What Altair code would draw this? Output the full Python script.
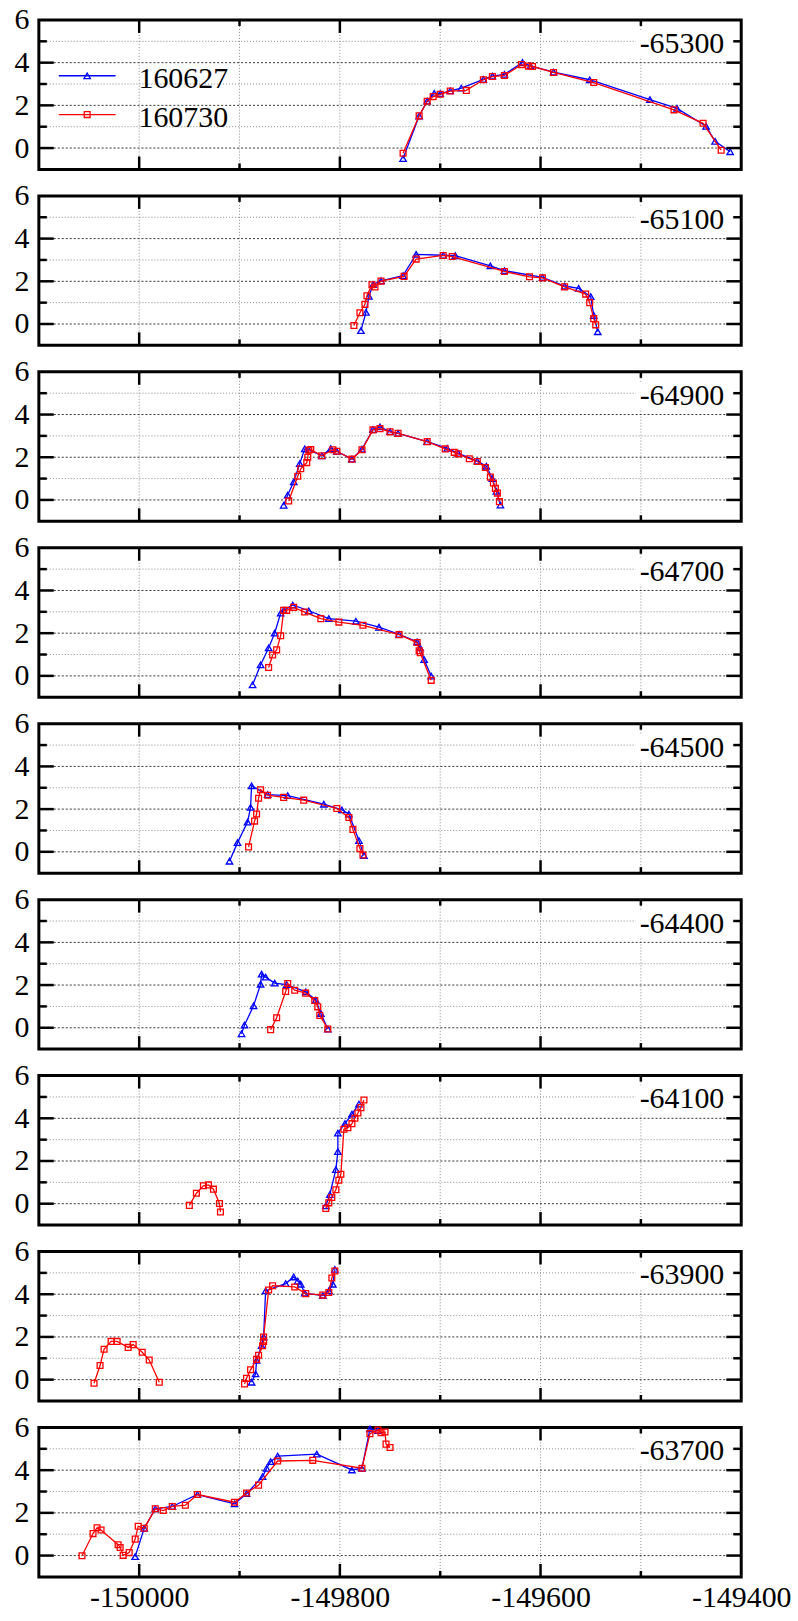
import altair as alt
import pandas as pd

# ---------------- data ----------------
SERIES = ["160627", "160730"]
COLORS = ["#0000ff", "#ff0000"]
SHAPES = ["triangle-up", "square"]

PANEL_LABELS = ["-65300", "-65100", "-64900", "-64700", "-64500",
                "-64400", "-64100", "-63900", "-63700"]

X_DOMAIN = [-150100, -149400]
Y_DOMAIN = [-1, 6]
X_LABELS = [-150000, -149800, -149600, -149400]
X_GRID = [-150000, -149900, -149800, -149700, -149600, -149500]
X_TICK_MAJOR = [-150000, -149800, -149600]
X_TICK_MINOR = [-149900, -149700, -149500]
Y_LABELS = [0, 2, 4, 6]
Y_GRID_MAJOR = [0, 2, 4]
Y_GRID_MINOR = [1, 3, 5]

# panel -65300
P1_B_X = [-149737, -149721, -149713, -149706, -149700, -149690, -149679, -149657, -149648, -149636,
          -149618, -149610, -149587, -149551, -149491, -149464, -149435, -149426, -149411]
P1_B_Y = [-0.49, 1.50, 2.20, 2.56, 2.55, 2.68, 2.81, 3.22, 3.37, 3.45,
          4.01, 3.85, 3.56, 3.20, 2.27, 1.86, 1.02, 0.32, -0.17]
P1_R_X = [-149737, -149721, -149713, -149707, -149700, -149690, -149674, -149657, -149648, -149636,
          -149619, -149612, -149608, -149587, -149547, -149467, -149438, -149420]
P1_R_Y = [-0.24, 1.51, 2.19, 2.41, 2.52, 2.67, 2.70, 3.20, 3.35, 3.40,
          3.91, 3.84, 3.82, 3.54, 3.07, 1.79, 1.16, -0.10]

# panel -65100
P2_B_X = [-149779, -149774, -149771, -149767, -149759, -149737, -149724, -149697, -149685, -149650,
          -149636, -149598, -149576, -149562, -149550, -149547, -149543]
P2_B_Y = [-0.31, 0.55, 1.30, 1.85, 2.02, 2.27, 3.26, 3.22, 3.20, 2.72,
          2.50, 2.18, 1.78, 1.67, 1.28, 0.40, -0.36]
P2_R_X = [-149786, -149780, -149775, -149773, -149768, -149765, -149759, -149736, -149724, -149697,
          -149688, -149636, -149611, -149598, -149576, -149555, -149551, -149547, -149545]
P2_R_Y = [-0.07, 0.53, 0.92, 1.32, 1.84, 1.73, 2.01, 2.23, 3.04, 3.21,
          3.16, 2.46, 2.21, 2.16, 1.74, 1.40, 1.00, 0.25, -0.04]

# panel -64900
P3_B_X = [-149856, -149852, -149846, -149840, -149835, -149831, -149818, -149809, -149803, -149788,
          -149778, -149767, -149760, -149750, -149742, -149713, -149693, -149682, -149663, -149654,
          -149648, -149644, -149640]
P3_B_Y = [-0.25, 0.23, 0.85, 1.70, 2.39, 2.36, 2.07, 2.41, 2.28, 1.91,
          2.38, 3.30, 3.42, 3.20, 3.12, 2.73, 2.42, 2.18, 1.82, 1.58,
          1.00, 0.40, -0.24]
P3_R_X = [-149851, -149842, -149839, -149833, -149832, -149831, -149829, -149818, -149807, -149803,
          -149788, -149778, -149767, -149760, -149750, -149742, -149713, -149695, -149686, -149682,
          -149671, -149663, -149655, -149650, -149647, -149645, -149643, -149641]
P3_R_Y = [-0.05, 1.11, 1.46, 1.75, 2.00, 2.33, 2.36, 2.07, 2.35, 2.28,
          1.91, 2.35, 3.28, 3.34, 3.19, 3.12, 2.73, 2.39, 2.23, 2.16,
          1.93, 1.80, 1.52, 1.07, 0.79, 0.54, 0.32, -0.08]

# panel -64700
P4_B_X = [-149887, -149879, -149871, -149865, -149859, -149856, -149847, -149831, -149811, -149784,
          -149761, -149741, -149723, -149720, -149716, -149709]
P4_B_Y = [-0.42, 0.52, 1.31, 2.00, 2.94, 3.07, 3.32, 3.05, 2.68, 2.56,
          2.28, 1.95, 1.60, 1.31, 0.76, -0.01]
P4_R_X = [-149871, -149867, -149863, -149859, -149856, -149853, -149846, -149835, -149819, -149801,
          -149777, -149741, -149723, -149721, -149720, -149709]
P4_R_Y = [0.39, 0.98, 1.22, 1.88, 3.07, 3.07, 3.21, 2.99, 2.68, 2.52,
          2.37, 1.93, 1.56, 1.18, 1.08, -0.21]

# panel -64500
P5_B_X = [-149910, -149902, -149892, -149889, -149888, -149872, -149852, -149816, -149798, -149791,
          -149781, -149776]
P5_B_Y = [-0.44, 0.43, 1.39, 2.08, 3.09, 2.68, 2.63, 2.23, 1.97, 1.77,
          0.53, -0.17]
P5_R_X = [-149891, -149885, -149883, -149881, -149879, -149872, -149856, -149836, -149803, -149791,
          -149787, -149780, -149777]
P5_R_Y = [0.23, 1.44, 1.77, 2.51, 2.91, 2.65, 2.55, 2.42, 2.03, 1.61,
          1.05, 0.15, -0.15]

# panel -64400
P6_B_X = [-149898, -149895, -149886, -149879, -149878, -149874, -149865, -149853, -149834, -149824,
          -149819, -149812]
P6_B_Y = [-0.28, 0.13, 1.03, 2.04, 2.51, 2.37, 2.09, 2.02, 1.68, 1.30,
          0.67, -0.06]
P6_R_X = [-149869, -149863, -149854, -149852, -149845, -149834, -149825, -149822, -149820, -149812]
P6_R_Y = [-0.09, 0.47, 1.70, 2.07, 1.76, 1.62, 1.28, 0.98, 0.58, -0.06]

# panel -64100
P7_B_X = [-149814, -149810, -149804, -149802, -149802, -149795, -149788, -149781]
P7_B_Y = [-0.10, 0.43, 1.60, 2.44, 3.31, 3.75, 4.20, 4.67]
P7_R1_X = [-149950, -149943, -149936, -149931, -149926, -149920, -149919]
P7_R1_Y = [-0.08, 0.49, 0.84, 0.88, 0.68, 0.01, -0.39]
P7_R2_X = [-149814, -149811, -149808, -149804, -149801, -149799, -149796, -149792, -149788, -149785,
           -149782, -149779, -149776]
P7_R2_Y = [-0.22, 0.04, 0.29, 0.65, 1.10, 1.38, 3.49, 3.56, 3.75, 4.00,
           4.25, 4.50, 4.86]

# panel -63900
P8_B_X = [-149888, -149884, -149883, -149878, -149876, -149874, -149854, -149846, -149842, -149839,
          -149835, -149817, -149811, -149807, -149805]
P8_B_Y = [-0.12, 0.27, 0.90, 1.60, 2.00, 4.16, 4.50, 4.81, 4.62, 4.47,
          4.05, 3.94, 4.16, 4.47, 5.17]
P8_R1_X = [-150045, -150039, -150035, -150028, -150022, -150011, -150006, -149997, -149990, -149980]
P8_R1_Y = [-0.17, 0.66, 1.42, 1.79, 1.79, 1.51, 1.64, 1.28, 0.92, -0.12]
P8_R2_X = [-149895, -149893, -149889, -149883, -149881, -149877, -149876, -149876, -149871, -149867,
           -149845, -149834, -149817, -149811, -149808, -149805]
P8_R2_Y = [-0.20, 0.06, 0.46, 0.95, 1.14, 1.59, 1.79, 2.00, 4.20, 4.40,
           4.34, 4.03, 3.96, 4.08, 4.76, 5.09]

# panel -63700
P9_B_X = [-150004, -149995, -149984, -149967, -149942, -149905, -149893, -149877, -149873, -149869,
          -149862, -149823, -149788, -149778, -149770, -149762]
P9_B_Y = [-0.05, 1.28, 2.19, 2.30, 2.86, 2.42, 2.90, 3.70, 4.09, 4.40,
          4.66, 4.75, 4.01, 4.09, 5.94, 5.85]
P9_R_X = [-150057, -150046, -150042, -150038, -150021, -150019, -150016, -150010, -150004, -150001,
          -149995, -149984, -149976, -149967, -149954, -149942, -149905, -149893, -149881, -149862,
          -149827, -149778, -149770, -149762, -149759, -149755, -149754, -149750]
P9_R_Y = [-0.01, 1.03, 1.30, 1.20, 0.51, 0.38, 0.01, 0.14, 0.77, 1.37,
          1.28, 2.19, 2.11, 2.30, 2.36, 2.86, 2.50, 2.93, 3.30, 4.43,
          4.46, 4.09, 5.71, 5.88, 5.76, 5.79, 5.22, 5.06]

# (series index, segment id, xs, ys) per panel
PANELS = [
    [(0, 0, P1_B_X, P1_B_Y), (1, 0, P1_R_X, P1_R_Y)],
    [(0, 0, P2_B_X, P2_B_Y), (1, 0, P2_R_X, P2_R_Y)],
    [(0, 0, P3_B_X, P3_B_Y), (1, 0, P3_R_X, P3_R_Y)],
    [(0, 0, P4_B_X, P4_B_Y), (1, 0, P4_R_X, P4_R_Y)],
    [(0, 0, P5_B_X, P5_B_Y), (1, 0, P5_R_X, P5_R_Y)],
    [(0, 0, P6_B_X, P6_B_Y), (1, 0, P6_R_X, P6_R_Y)],
    [(0, 0, P7_B_X, P7_B_Y), (1, 0, P7_R1_X, P7_R1_Y), (1, 1, P7_R2_X, P7_R2_Y)],
    [(0, 0, P8_B_X, P8_B_Y), (1, 0, P8_R1_X, P8_R1_Y), (1, 1, P8_R2_X, P8_R2_Y)],
    [(0, 0, P9_B_X, P9_B_Y), (1, 0, P9_R_X, P9_R_Y)],
]

# ---------------- styling ----------------
W, H = 705, 150
FONT = "Liberation Serif, Times New Roman, serif"
FS = 30

X_SCALE = alt.Scale(domain=X_DOMAIN, nice=False, zero=False)
Y_SCALE = alt.Scale(domain=Y_DOMAIN, nice=False, zero=False)

Y_AXIS = alt.Axis(values=Y_LABELS, labelFont=FONT, labelFontSize=FS, labelColor="black",
                  labelPadding=10, ticks=False, tickSize=0, domain=False, grid=False,
                  title=None, labelFlush=False, labelOverlap=False)
X_AXIS_BOTTOM = alt.Axis(values=X_LABELS, labelFont=FONT, labelFontSize=FS, labelColor="black",
                         labelPadding=6, ticks=False, tickSize=0, domain=False, grid=False,
                         title=None, labelFlush=False, labelOverlap=False,
                         labelExpr="toString(datum.value)")


def vals(v):
    return pd.DataFrame({"v": v})


def panel(k, label, tracks, bottom):
    rows = []
    for s, seg, xs, ys in tracks:
        for i, (xv, yv) in enumerate(zip(xs, ys)):
            rows.append({"x": xv, "y": yv, "series": SERIES[s], "seg": f"{s}-{seg}", "idx": i})
    df = pd.DataFrame(rows)

    x_axis = X_AXIS_BOTTOM if bottom else None

    def xenc(field):
        return alt.X(field, type="quantitative", scale=X_SCALE, axis=x_axis)

    def yenc(field):
        return alt.Y(field, type="quantitative", scale=Y_SCALE, axis=Y_AXIS)

    layers = []
    # grid
    layers.append(alt.Chart(vals(X_GRID)).mark_rule(color="#8a8a8a", strokeDash=[1, 2], strokeWidth=1)
                  .encode(x=xenc("v")))
    layers.append(alt.Chart(vals(Y_GRID_MINOR)).mark_rule(color="#8a8a8a", strokeDash=[1, 2], strokeWidth=1)
                  .encode(y=yenc("v")))
    layers.append(alt.Chart(vals(Y_GRID_MAJOR)).mark_rule(color="#333333", strokeDash=[2, 2], strokeWidth=1)
                  .encode(y=yenc("v")))
    # panel label with white box
    lab = pd.DataFrame({"t": [label]})
    layers.append(alt.Chart(lab).mark_rect(color="white")
                  .encode(x=alt.value(W - 106), x2=alt.value(W - 9), y=alt.value(10), y2=alt.value(37)))
    layers.append(alt.Chart(lab).mark_text(font=FONT, fontSize=FS, align="right", baseline="alphabetic",
                                           color="black")
                  .encode(x=alt.value(W - 17), y=alt.value(33), text="t:N"))
    # data
    for s in range(2):
        d = df[df["series"] == SERIES[s]]
        if len(d) == 0:
            continue
        layers.append(alt.Chart(d).mark_line(color=COLORS[s], strokeWidth=1.3)
                      .encode(x=xenc("x"), y=yenc("y"), detail="seg:N", order="idx:Q"))
        layers.append(alt.Chart(d).mark_point(shape=SHAPES[s], filled=False, color=COLORS[s],
                                              size=42 if s == 0 else 34, strokeWidth=1.3, opacity=1)
                      .encode(x=xenc("x"), y=yenc("y")))
    # inward ticks
    tk = dict(color="black", strokeWidth=2.5)
    layers.append(alt.Chart(vals(Y_GRID_MAJOR)).mark_rule(**tk)
                  .encode(y=yenc("v"), x=alt.value(0), x2=alt.value(15)))
    layers.append(alt.Chart(vals(Y_GRID_MINOR)).mark_rule(**tk)
                  .encode(y=yenc("v"), x=alt.value(0), x2=alt.value(8)))
    layers.append(alt.Chart(vals(Y_GRID_MAJOR)).mark_rule(**tk)
                  .encode(y=yenc("v"), x=alt.value(W - 15), x2=alt.value(W)))
    layers.append(alt.Chart(vals(Y_GRID_MINOR)).mark_rule(**tk)
                  .encode(y=yenc("v"), x=alt.value(W - 8), x2=alt.value(W)))
    layers.append(alt.Chart(vals(X_TICK_MAJOR)).mark_rule(**tk)
                  .encode(x=xenc("v"), y=alt.value(0), y2=alt.value(13)))
    layers.append(alt.Chart(vals(X_TICK_MINOR)).mark_rule(**tk)
                  .encode(x=xenc("v"), y=alt.value(0), y2=alt.value(6)))
    layers.append(alt.Chart(vals(X_TICK_MAJOR)).mark_rule(**tk)
                  .encode(x=xenc("v"), y=alt.value(H - 13), y2=alt.value(H)))
    layers.append(alt.Chart(vals(X_TICK_MINOR)).mark_rule(**tk)
                  .encode(x=xenc("v"), y=alt.value(H - 6), y2=alt.value(H)))
    # legend (first panel only)
    if k == 0:
        for s in range(2):
            ld = pd.DataFrame({"t": [SERIES[s]]})
            ly = 56 + 39 * s
            layers.append(alt.Chart(ld).mark_rule(color=COLORS[s], strokeWidth=1.3)
                          .encode(x=alt.value(20), x2=alt.value(77), y=alt.value(ly)))
            layers.append(alt.Chart(ld).mark_point(shape=SHAPES[s], filled=False, color=COLORS[s],
                                                   size=42 if s == 0 else 34, strokeWidth=1.3, opacity=1)
                          .encode(x=alt.value(48.5), y=alt.value(ly)))
            layers.append(alt.Chart(ld).mark_text(font=FONT, fontSize=FS, align="left",
                                                  baseline="alphabetic", color="black")
                          .encode(x=alt.value(100), y=alt.value(ly + 12), text="t:N"))

    return alt.layer(*layers).properties(width=W, height=H)


panels = [panel(k, PANEL_LABELS[k], PANELS[k], k == len(PANELS) - 1) for k in range(len(PANELS))]

chart = alt.vconcat(*panels, spacing=26.6, bounds="flush").properties(
    padding={"left": 12, "top": 0, "right": 5, "bottom": 2},
    background="white",
).configure_view(stroke="black", strokeWidth=3)

chart.save("out.html", embed_options={"renderer": "svg", "actions": False})
